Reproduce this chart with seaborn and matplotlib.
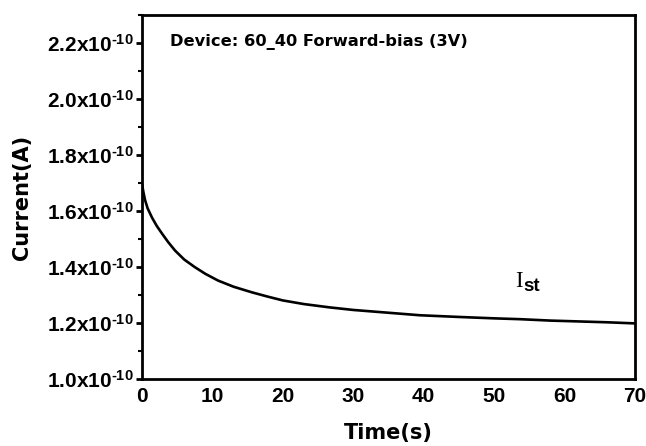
import numpy as np
import pandas as pd
import matplotlib
matplotlib.use("Agg")
import matplotlib.pyplot as plt
import seaborn as sns
from matplotlib.ticker import MultipleLocator, FuncFormatter

# --- data (current in units of 1e-10 A) ---
time_s = [0.0, 0.2, 0.43, 0.8, 1.42, 2.1, 2.84, 3.7, 4.7, 6.0, 7.5, 9.0,
          10.8, 13.0, 15.6, 17.8, 20.0, 23.0, 26.7, 30.0, 35.0, 39.5, 45.0,
          50.0, 53.7, 58.0, 62.0, 66.0, 70.0]
current_e10 = [1.697, 1.668, 1.640, 1.610, 1.577, 1.547, 1.520, 1.490, 1.459,
               1.427, 1.400, 1.376, 1.352, 1.330, 1.310, 1.295, 1.281, 1.268,
               1.256, 1.247, 1.237, 1.228, 1.222, 1.217, 1.214, 1.209, 1.206,
               1.203, 1.199]
y_ticks = [1.0, 1.2, 1.4, 1.6, 1.8, 2.0, 2.2]
x_ticks = [0, 10, 20, 30, 40, 50, 60, 70]

df = pd.DataFrame({"Time": time_s, "Current": current_e10})

sns.set_theme(style="white")
plt.rcParams["font.family"] = ["Liberation Sans", "DejaVu Sans"]
plt.rcParams["mathtext.fontset"] = "custom"
plt.rcParams["mathtext.bf"] = "Liberation Sans:bold"
plt.rcParams["mathtext.rm"] = "Liberation Sans:bold"
plt.rcParams["mathtext.default"] = "bf"
for k in ["text.color", "axes.labelcolor", "xtick.color", "ytick.color"]:
    plt.rcParams[k] = "black"

fig = plt.figure(figsize=(6.46, 4.46), dpi=100)
ax = fig.add_axes([0.2198, 0.150, 0.763, 0.816])

sns.lineplot(data=df, x="Time", y="Current", color="black", linewidth=1.9, ax=ax)

ax.set_xlim(0, 70)
ax.set_ylim(1.0, 2.3)
ax.set_xticks(x_ticks)
ax.set_yticks(y_ticks)
ax.yaxis.set_minor_locator(MultipleLocator(0.1))
ax.yaxis.set_major_formatter(FuncFormatter(lambda v, p: r"%.1fx10$^{\text{-10}}$" % v))

for s in ax.spines.values():
    s.set_linewidth(2.0)
    s.set_color("black")

ax.tick_params(axis="y", which="major", direction="out", length=4, width=2,
               left=True, labelsize=15, pad=2)
ax.tick_params(axis="y", which="minor", direction="out", length=3, width=1.5, left=True)
ax.tick_params(axis="x", which="major", length=0, labelsize=15, pad=6)
for lab in ax.get_xticklabels() + ax.get_yticklabels():
    lab.set_fontweight("bold")

ax.set_xlabel("Time(s)", fontsize=15, fontweight="bold", family="DejaVu Sans", labelpad=12)
ax.set_ylabel("Current(A)", fontsize=15, fontweight="bold", family="DejaVu Sans", labelpad=11)

ax.text(0.057, 0.926, "Device: 60_40 Forward-bias (3V)", transform=ax.transAxes,
        fontsize=11.7, fontweight="bold", family="DejaVu Sans", ha="left", va="center")
ax.text(0.757, 0.268, "I", transform=ax.transAxes, fontsize=16.5,
        family="Liberation Serif", ha="left", va="center")
ax.text(0.773, 0.255, "st", transform=ax.transAxes, fontsize=13.5,
        fontweight="bold", ha="left", va="center")

fig.savefig("out.png", dpi=100)
